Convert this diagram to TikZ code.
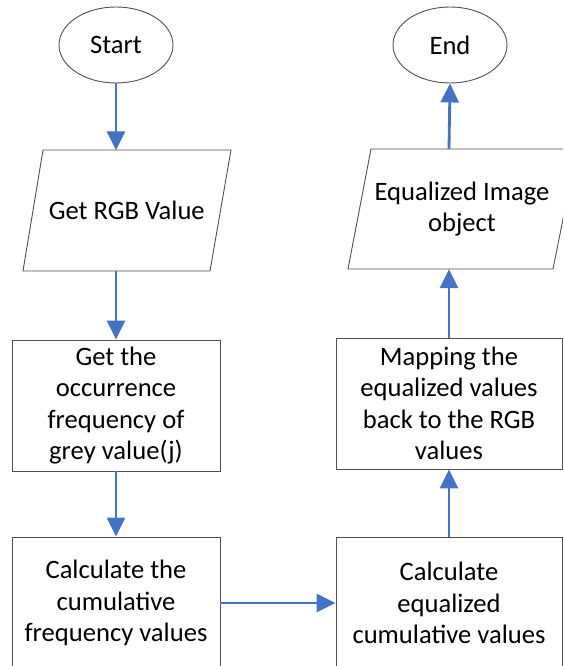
\documentclass[tikz,border=0pt]{standalone}
\usepackage{fontspec}
\setmainfont{Carlito}
\usetikzlibrary{shapes.geometric,arrows.meta}
\definecolor{arrowblue}{RGB}{68,114,196}
\definecolor{edgegray}{RGB}{80,80,80}
\begin{document}
\begin{tikzpicture}[x=1pt,y=-1pt,
  txt/.style={font=\fontsize{26.6}{31.5}\selectfont, align=center, text=black},
  termnode/.style={txt, ellipse, draw=edgegray, line width=0.9pt, minimum width=114pt, minimum height=76pt, inner sep=0pt},
  procbox/.style={txt, rectangle, draw=edgegray, line width=0.9pt, inner sep=0pt},
  ioshape/.style={draw=edgegray, line width=0.9pt},
  ionode/.style={txt, inner sep=0pt, minimum height=120pt},
  flow/.style={draw=arrowblue, line width=2.8pt, -{Triangle[length=19pt,width=18pt]}}
]
\useasboundingbox (0,0) rectangle (563,666);
\clip (0,0) rectangle (563,666);
\fill[white] (0,0) rectangle (563,666);

% terminals
\node[termnode] (start) at (116,45) {Start};
\node[termnode] (end) at (450,45) {End};

% input/output shapes
\draw[ioshape] (43,150) -- (231,150) -- (210,271) -- (23,271) -- cycle;
\node[ionode] (rgb) at (126.75,210.5) {Get RGB Value};
\draw[ioshape] (371,149) -- (577,149) -- (553,269) -- (348,269) -- cycle;
\node[ionode] (eqimg) at (462,209) {Equalized Image\\object};

% process boxes
\node[procbox, minimum width=208pt, minimum height=131pt] (occ) at (116,405.5)
  {Get the\\occurrence\\frequency of\\grey value(j)};
\node[procbox, minimum width=208pt, minimum height=132pt] (cum) at (116,603)
  {Calculate the\\cumulative\\frequency values};
\node[procbox, minimum width=226pt, minimum height=131pt] (map) at (449,403.5)
  {Mapping the\\equalized values\\back to the RGB\\values};
\node[procbox, minimum width=226pt, minimum height=132pt] (eqc) at (449,603)
  {Calculate\\equalized\\cumulative values};

% connectors
\draw[flow] (start.south) -- (start.south |- rgb.north);
\draw[flow] (start.south |- rgb.south) -- (occ.north);
\draw[flow] (occ.south) -- (cum.north);
\draw[flow] (cum.east) -- (eqc.west);
\draw[flow] (eqc.north) -- (map.south);
\draw[flow] (map.north) -- (map.north |- eqimg.south);
\draw[flow] (map.north |- eqimg.north) -- (end.south);
\end{tikzpicture}
\end{document}
